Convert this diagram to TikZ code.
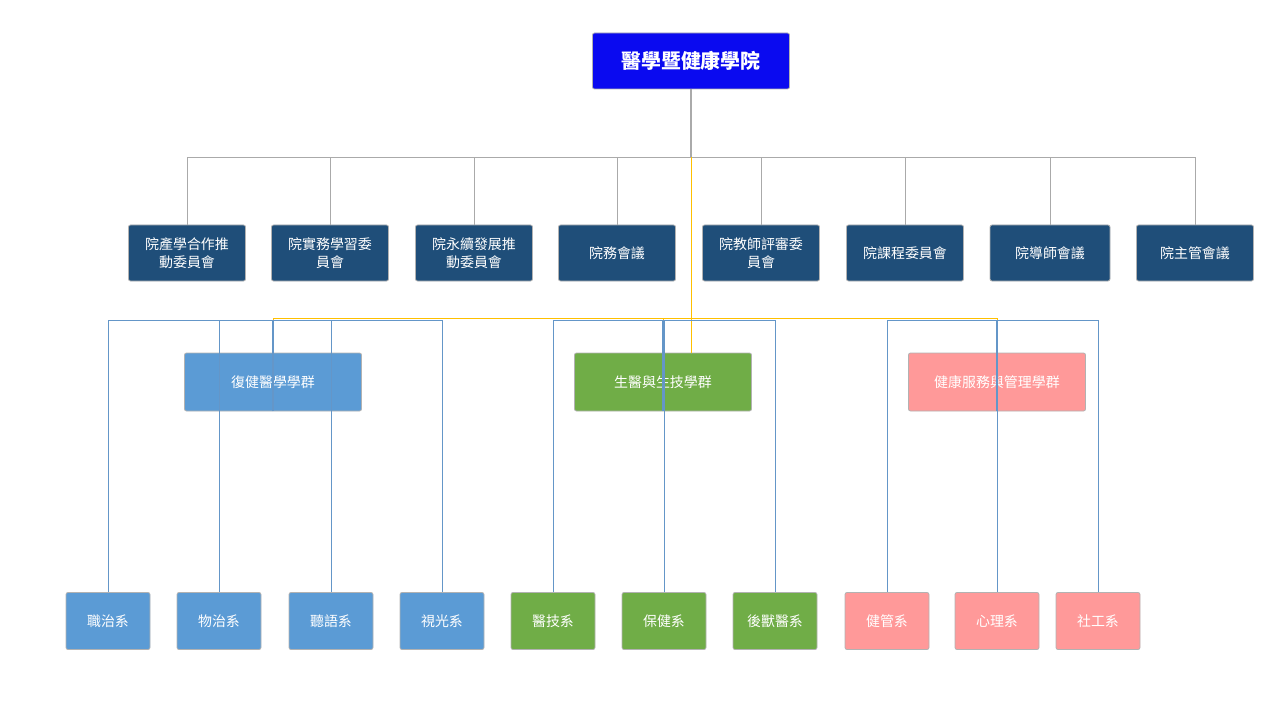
\documentclass[tikz,border=0pt]{standalone}
\usepackage{fontspec}
\setmainfont{Noto Sans CJK TC}
\definecolor{topblue}{RGB}{10,10,240}
\definecolor{cmtblue}{RGB}{31,78,121}
\definecolor{grpblue}{RGB}{91,155,213}
\definecolor{grpgreen}{RGB}{112,173,71}
\definecolor{grppink}{RGB}{255,153,153}
\definecolor{busgray}{RGB}{170,170,170}
\definecolor{busyellow}{RGB}{255,192,0}
\definecolor{buslink}{RGB}{100,150,200}
\tikzset{
  box/.style={draw=white!70!black, line width=0.8pt, rounded corners=2bp, text=white,
    align=center, inner sep=0pt, font=\fontsize{14}{18}\selectfont},
  top/.style={box, fill=topblue, minimum width=197bp, minimum height=56bp,
    font=\fontsize{20}{24}\selectfont\bfseries},
  cmt/.style={box, fill=cmtblue, minimum width=117bp, minimum height=56bp},
  grp/.style={box, minimum width=177bp, minimum height=58bp},
  dept/.style={box, minimum width=84bp, minimum height=57bp},
}
\begin{document}
\begin{tikzpicture}[x=1bp,y=-1bp]
        \useasboundingbox (0,0) rectangle (1280,720);

        \node[top] (school) at (691,61) {醫學暨健康學院};

        \node[cmt] (c1) at (187,253) {院產學合作推\\動委員會};
        \node[cmt] (c2) at (330,253) {院實務學習委\\員會};
        \node[cmt] (c3) at (474,253) {院永續發展推\\動委員會};
        \node[cmt] (c4) at (617,253) {院務會議};
        \node[cmt] (c5) at (761,253) {院教師評審委\\員會};
        \node[cmt] (c6) at (905,253) {院課程委員會};
        \node[cmt, minimum width=120bp] (c7) at (1050,253) {院導師會議};
        \node[cmt] (c8) at (1195,253) {院主管會議};

        \node[grp, fill=grpblue] (g1) at (273,382) {復健醫學學群};
        \node[grp, fill=grpgreen] (g2) at (663,382) {生醫與生技學群};
        \node[grp, fill=grppink] (g3) at (997,382) {健康服務與管理學群};

        \node[dept, fill=grpblue] (d1) at (108,621) {職治系};
        \node[dept, fill=grpblue] (d2) at (219,621) {物治系};
        \node[dept, fill=grpblue] (d3) at (331,621) {聽語系};
        \node[dept, fill=grpblue] (d4) at (442,621) {視光系};
        \node[dept, fill=grpgreen] (d5) at (553,621) {醫技系};
        \node[dept, fill=grpgreen] (d6) at (664,621) {保健系};
        \node[dept, fill=grpgreen] (d7) at (775,621) {後獸醫系};
        \node[dept, fill=grppink] (d8) at (887,621) {健管系};
        \node[dept, fill=grppink] (d9) at (997,621) {心理系};
        \node[dept, fill=grppink] (d10) at (1098,621) {社工系};

        % committees
        \coordinate (cbus) at (691,157);
        \draw[busgray, line width=2pt] (school.south) -- (cbus);
        \foreach \c in {c1,c2,c3,c4,c5,c6,c7,c8}
          \draw[busgray, line width=1pt] (cbus) -| (\c.north);

        % groups
        \coordinate (gbus) at (691,318);
        \draw[busyellow, line width=1pt] (cbus) -- (691,353);
        \foreach \g in {g1,g2,g3}
          \draw[busyellow, line width=1pt] (gbus) -| (\g.north);

        % departments
        \foreach \g/\ds in {g1/{d1,d2,d3,d4}, g2/{d5,d6,d7}, g3/{d8,d9,d10}} {
          \coordinate (\g bus) at ([yshift=91]\g.south);
          \draw[buslink, line width=1.6pt] (\g.south) -- (\g bus);
          \foreach \d in \ds
            \draw[buslink, line width=1pt] (\g bus) -| (\d.north);
        }
    \end{tikzpicture}
\end{document}
